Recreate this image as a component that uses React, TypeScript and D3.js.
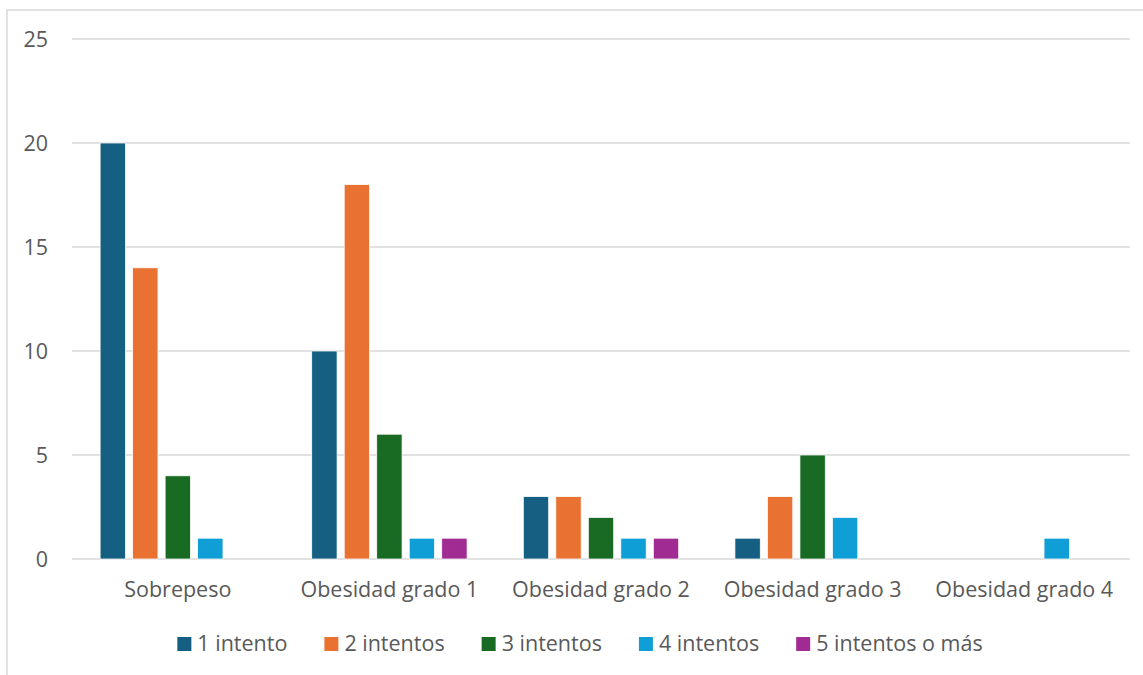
import { useEffect, useRef } from 'react';
import * as d3 from 'd3';

const categories = ['Sobrepeso', 'Obesidad grado 1', 'Obesidad grado 2', 'Obesidad grado 3', 'Obesidad grado 4'];
const seriesNames = ['1 intento', '2 intentos', '3 intentos', '4 intentos', '5 intentos o más'];
const seriesColors = ['#156082', '#E97132', '#196B24', '#0F9ED5', '#A02B93'];
// one array per series, values in category order
const intento1 = [20, 10, 3, 1, 0];
const intento2 = [14, 18, 3, 3, 0];
const intento3 = [4, 6, 2, 5, 0];
const intento4 = [1, 1, 1, 2, 1];
const intento5 = [0, 1, 1, 0, 0];
const yTicks = [0, 5, 10, 15, 20, 25];

const seriesValues = [intento1, intento2, intento3, intento4, intento5];

const App = () => {
  const svgRef = useRef(null);

  useEffect(() => {
    if (!svgRef.current) return;
    const svg = d3.select(svgRef.current);
    svg.selectAll('*').remove();

    const width = 1143;
    const height = 675;
    const font = '"Open Sans", "Liberation Sans", sans-serif';
    const textColor = '#595959';

    // outer chart border (right and bottom sit off the picture)
    svg.append('rect')
      .attr('x', 7).attr('y', 10)
      .attr('width', width + 20).attr('height', height + 20)
      .attr('fill', 'white')
      .attr('stroke', '#d9d9d9')
      .attr('stroke-width', 1.5);

    const plot = { left: 72, right: 1130, top: 39, bottom: 559 };

    const y = d3.scaleLinear().domain([0, 25]).range([plot.bottom, plot.top]);
    const x0 = d3.scaleBand().domain(categories).range([plot.left, plot.right]).padding(0);
    const x1 = d3.scaleBand()
      .domain(seriesNames)
      .range([0, x0.bandwidth()])
      .paddingInner(0.22)
      .paddingOuter(0.865);

    // gridlines
    svg.append('g')
      .selectAll('line')
      .data(yTicks)
      .join('line')
      .attr('x1', plot.left).attr('x2', plot.right)
      .attr('y1', d => y(d)).attr('y2', d => y(d))
      .attr('stroke', '#d9d9d9')
      .attr('stroke-width', 1.5);

    // y tick labels
    svg.append('g')
      .selectAll('text')
      .data(yTicks)
      .join('text')
      .attr('x', 48)
      .attr('y', d => y(d))
      .attr('dy', '0.36em')
      .attr('text-anchor', 'end')
      .attr('fill', textColor)
      .style('font', `21.5px ${font}`)
      .text(d => d);

    // bars
    const rows = categories.flatMap((c, ci) =>
      seriesNames.map((s, si) => ({ cat: c, series: s, color: seriesColors[si], value: seriesValues[si][ci] }))
    ).filter(d => d.value > 0);

    svg.append('g')
      .selectAll('rect')
      .data(rows)
      .join('rect')
      .attr('x', d => x0(d.cat) + x1(d.series))
      .attr('y', d => y(d.value))
      .attr('width', x1.bandwidth())
      .attr('height', d => y(0) - y(d.value))
      .attr('fill', d => d.color)
      .attr('stroke', 'white')
      .attr('stroke-width', 0.75);

    // category labels
    svg.append('g')
      .selectAll('text')
      .data(categories)
      .join('text')
      .attr('x', d => x0(d) + x0.bandwidth() / 2)
      .attr('y', 597)
      .attr('text-anchor', 'middle')
      .attr('fill', textColor)
      .style('font', `21.5px ${font}`)
      .text(d => d);

    // legend, laid out from measured text widths
    const legend = svg.append('g');
    const items = legend.selectAll('g')
      .data(seriesNames)
      .join('g');
    items.append('rect')
      .attr('width', 14).attr('height', 14)
      .attr('y', 637)
      .attr('fill', (d, i) => seriesColors[i]);
    items.append('text')
      .attr('x', 20)
      .attr('y', 651)
      .attr('fill', textColor)
      .style('font', `21.5px ${font}`)
      .text(d => d);

    let cursor = 0;
    const offsets = [];
    items.each(function () {
      offsets.push(cursor);
      const w = d3.select(this).select('text').node().getComputedTextLength();
      cursor += 20 + w + 37;
    });
    const total = cursor - 37;
    const start = 580 - total / 2;
    items.attr('transform', (d, i) => `translate(${start + offsets[i]},0)`);
  }, []);

  return (
    <div style={{ position: 'absolute', left: 0, top: 0, width: 1143, height: 675, overflow: 'hidden' }}>
      <svg ref={svgRef} width={1143} height={675} style={{ display: 'block' }}></svg>
    </div>
  );
};

export default App;
